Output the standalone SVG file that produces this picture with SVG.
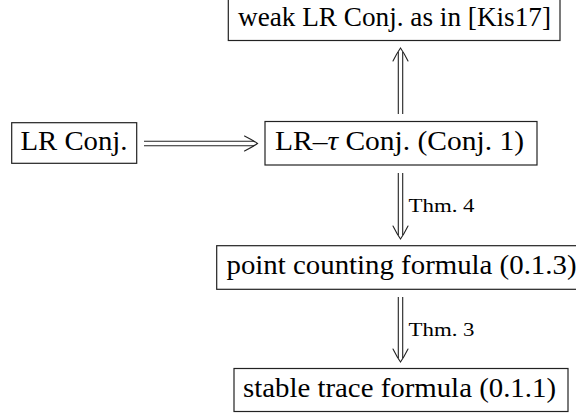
<svg xmlns="http://www.w3.org/2000/svg" xmlns:xlink="http://www.w3.org/1999/xlink" width="576" height="418" viewBox="0 0 576 418">
<style>
.box{fill:#fff;stroke:#222;stroke-width:1.2}
.t{font-size:26.5px;fill:#000}
.lbl{font-size:19px;fill:#000}
.ln{stroke:#222;stroke-width:1.1;fill:none}
.tip{stroke:#222;stroke-width:1.1;fill:none;stroke-linecap:round}
</style>
<defs>
<path id="tip" d="M -13,-7.5 Q -5,-3.5 0,0 Q -5,3.5 -13,7.5"/>
</defs>
<rect width="576" height="418" fill="#fff"/>
<g id="connectors" font-family="'Liberation Serif', 'DejaVu Serif', serif">
<g id="e-lr-lrtau">
<line class="ln" x1="144" y1="141.3" x2="254" y2="141.3"/>
<line class="ln" x1="144" y1="145.7" x2="254" y2="145.7"/>
<use xlink:href="#tip" href="#tip" class="tip" transform="translate(257.5,143.5)"/>
</g>
<g id="e-lrtau-weak">
<line class="ln" x1="398.3" y1="114" x2="398.3" y2="52"/>
<line class="ln" x1="402.7" y1="114" x2="402.7" y2="52"/>
<use xlink:href="#tip" href="#tip" class="tip" transform="translate(400.5,48) rotate(-90)"/>
</g>
<g id="e-lrtau-point">
<line class="ln" x1="398.3" y1="173" x2="398.3" y2="235"/>
<line class="ln" x1="402.7" y1="173" x2="402.7" y2="235"/>
<use xlink:href="#tip" href="#tip" class="tip" transform="translate(400.5,239) rotate(90)"/>
<text class="lbl" x="408.5" y="212" textLength="66" lengthAdjust="spacingAndGlyphs">Thm. 4</text>
</g>
<g id="e-point-stable">
<line class="ln" x1="398.3" y1="297" x2="398.3" y2="358"/>
<line class="ln" x1="402.7" y1="297" x2="402.7" y2="358"/>
<use xlink:href="#tip" href="#tip" class="tip" transform="translate(400.5,362) rotate(90)"/>
<text class="lbl" x="408.5" y="336" textLength="66" lengthAdjust="spacingAndGlyphs">Thm. 3</text>
</g>
</g>
<g id="nodes" font-family="'Liberation Serif', 'DejaVu Serif', serif">
<g id="n-weak">
<rect class="box" x="228.3" y="-3.5" width="331.7" height="44"/>
<text class="t" x="238" y="26" textLength="313" lengthAdjust="spacingAndGlyphs">weak LR Conj. as in [Kis17]</text>
</g>
<g id="n-lr">
<rect class="box" x="11.7" y="122.7" width="125" height="40.6"/>
<text class="t" x="20.5" y="149.5" textLength="107" lengthAdjust="spacingAndGlyphs">LR Conj.</text>
</g>
<g id="n-lrtau">
<rect class="box" x="265" y="121.5" width="272" height="43.5"/>
<text class="t" x="275" y="149.5" textLength="249" lengthAdjust="spacingAndGlyphs">LR–<tspan font-style="italic">τ</tspan> Conj. (Conj. 1)</text>
</g>
<g id="n-point">
<rect class="box" x="216.7" y="245.7" width="369" height="43.6"/>
<text class="t" x="226.5" y="274" textLength="350" lengthAdjust="spacingAndGlyphs">point counting formula (0.1.3)</text>
</g>
<g id="n-stable">
<rect class="box" x="234" y="368.5" width="334" height="43"/>
<text class="t" x="243" y="396.5" textLength="313" lengthAdjust="spacingAndGlyphs">stable trace formula (0.1.1)</text>
</g>
</g>
</svg>
